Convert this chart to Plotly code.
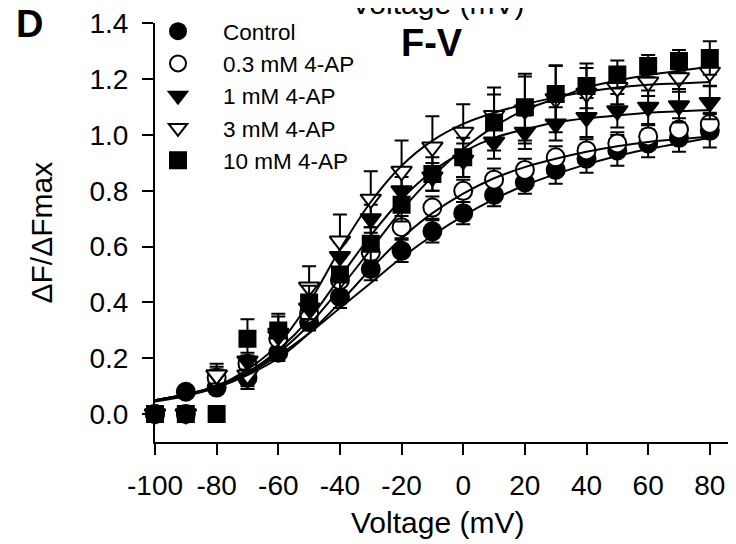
import plotly.graph_objects as go

voltage = [-100, -90, -80, -70, -60, -50, -40, -30, -20, -10, 0, 10, 20, 30, 40, 50, 60, 70, 80]

series_names = ["Control", "0.3 mM 4-AP", "1 mM 4-AP", "3 mM 4-AP", "10 mM 4-AP"]

control = [0.0, 0.08, 0.095, 0.13, 0.22, 0.33, 0.42, 0.52, 0.585, 0.655, 0.72, 0.785, 0.83, 0.875, 0.915, 0.945, 0.97, 0.99, 1.015]
ap03 = [0.0, 0.0, 0.13, 0.18, 0.27, 0.36, 0.48, 0.58, 0.67, 0.74, 0.80, 0.84, 0.875, 0.92, 0.945, 0.97, 0.995, 1.02, 1.04]
ap1 = [0.0, 0.0, 0.14, 0.19, 0.28, 0.38, 0.565, 0.70, 0.80, 0.85, 0.91, 0.975, 1.01, 1.04, 1.063, 1.087, 1.10, 1.105, 1.117]
ap3 = [0.0, 0.0, 0.14, 0.14, 0.29, 0.455, 0.62, 0.77, 0.87, 0.957, 1.01, 1.07, 1.09, 1.13, 1.15, 1.17, 1.19, 1.205, 1.225]
ap10 = [0.0, 0.0, 0.0, 0.27, 0.30, 0.40, 0.50, 0.61, 0.75, 0.86, 0.92, 1.045, 1.10, 1.147, 1.176, 1.217, 1.247, 1.265, 1.276]

err_control = [0, 0.02, 0.02, 0.03, 0.03, 0.03, 0.04, 0.04, 0.04, 0.04, 0.04, 0.04, 0.04, 0.05, 0.05, 0.055, 0.05, 0.05, 0.06]
err_ap03 = [0, 0, 0.03, 0.03, 0.03, 0.04, 0.04, 0.04, 0.04, 0.04, 0.04, 0.04, 0.04, 0.04, 0.04, 0.04, 0.04, 0.04, 0.04]
err_ap1 = [0, 0, 0.03, 0.03, 0.04, 0.04, 0.05, 0.05, 0.05, 0.05, 0.06, 0.06, 0.06, 0.06, 0.07, 0.06, 0.06, 0.06, 0.06]
err_ap3 = [0, 0, 0.04, 0.05, 0.06, 0.075, 0.095, 0.10, 0.11, 0.11, 0.10, 0.10, 0.12, 0.12, 0.09, 0.06, 0.05, 0.05, 0.05]
err_ap10 = [0, 0, 0, 0.07, 0.06, 0.06, 0.06, 0.06, 0.06, 0.06, 0.07, 0.10, 0.12, 0.10, 0.08, 0.05, 0.04, 0.04, 0.06]

fit_control = [0.05, 0.07, 0.10, 0.145, 0.21, 0.29, 0.38, 0.47, 0.56, 0.64, 0.71, 0.77, 0.82, 0.86, 0.895, 0.925, 0.95, 0.97, 0.99]
fit_ap03 = [0.045, 0.065, 0.095, 0.14, 0.20, 0.29, 0.40, 0.52, 0.63, 0.72, 0.79, 0.845, 0.885, 0.915, 0.94, 0.96, 0.975, 0.985, 0.995]
fit_ap1 = [0.05, 0.07, 0.10, 0.15, 0.23, 0.34, 0.49, 0.64, 0.77, 0.87, 0.94, 0.99, 1.02, 1.045, 1.06, 1.07, 1.08, 1.085, 1.09]
fit_ap3 = [0.05, 0.07, 0.10, 0.16, 0.25, 0.40, 0.59, 0.76, 0.89, 0.98, 1.04, 1.08, 1.11, 1.135, 1.155, 1.17, 1.18, 1.185, 1.19]
fit_ap10 = [0.05, 0.07, 0.10, 0.15, 0.22, 0.32, 0.45, 0.59, 0.73, 0.85, 0.95, 1.03, 1.09, 1.13, 1.17, 1.195, 1.215, 1.23, 1.245]

x_ticks = [-100, -80, -60, -40, -20, 0, 20, 40, 60, 80]
y_ticks = [0.0, 0.2, 0.4, 0.6, 0.8, 1.0, 1.2, 1.4]

data = [control, ap03, ap1, ap3, ap10]
errs = [err_control, err_ap03, err_ap1, err_ap3, err_ap10]
fits = [fit_control, fit_ap03, fit_ap1, fit_ap3, fit_ap10]
symbols = ["circle", "circle", "triangle-down", "triangle-down", "square"]
fills = ["black", "white", "black", "white", "black"]
sizes = [18, 18, 18, 18, 16]

FONT = "Liberation Sans, Arial, sans-serif"

# The page body has an 8px margin, so the figure is drawn 8px right/down.
OFF = 8
FIG_W, FIG_H = 736 - OFF, 544 - OFF
# plot-area geometry in screen pixels
L, R, T, B = 155, 736, 23, 442
W, H = R - L, B - T


def px(xs):
    return (xs - L) / W


def py(ys):
    return (B - ys) / H


fig = go.Figure()
for name, y, e, sym, fc, sz in zip(series_names, data, errs, symbols, fills, sizes):
    fig.add_trace(go.Scatter(
        x=voltage, y=y, mode="markers", name=name,
        marker=dict(symbol=sym, size=sz, color=fc, line=dict(color="black", width=2)),
        error_y=dict(type="data", array=e, visible=True, color="black", thickness=2, width=7),
        cliponaxis=False,
    ))
for name, f in zip(series_names, fits):
    fig.add_trace(go.Scatter(
        x=voltage, y=f, mode="lines", showlegend=False,
        line=dict(color="black", width=2, shape="spline", smoothing=1.0),
        hoverinfo="skip",
    ))

fig.update_layout(
    width=FIG_W, height=FIG_H,
    margin=dict(l=L - OFF, r=736 - R, t=T - OFF, b=544 - B, autoexpand=False),
    paper_bgcolor="white", plot_bgcolor="white",
    font=dict(family=FONT, color="black"),
    showlegend=True,
    legend=dict(
        xref="container", yref="container",
        x=(133 - OFF) / FIG_W, y=1 - (10 - OFF) / FIG_H, xanchor="left", yanchor="top",
        font=dict(size=22.5, family=FONT, color="black"),
        bgcolor="rgba(0,0,0,0)", itemwidth=80,
        tracegroupgap=0,
    ),
    xaxis=dict(
        range=[-100, 88.5], tickvals=x_ticks, ticktext=[str(v) for v in x_ticks],
        showgrid=False, zeroline=False, showline=True, linecolor="black", linewidth=2,
        ticks="outside", ticklen=11, tickwidth=2, tickcolor="black", automargin=False,
        tickfont=dict(size=28, family=FONT, color="black"), ticklabelstandoff=6,
    ),
    yaxis=dict(
        range=[-0.1, 1.4015], tickvals=y_ticks, ticktext=[f"{v:.1f}" for v in y_ticks],
        showgrid=False, zeroline=False, showline=True, linecolor="black", linewidth=2,
        ticks="outside", ticklen=11, tickwidth=2, tickcolor="black", automargin=False,
        tickfont=dict(size=28, family=FONT, color="black"), ticklabelstandoff=8,
    ),
    annotations=[
        dict(text="Voltage (mV)", xref="paper", yref="paper", x=px(437.5), y=py(522),
             xanchor="center", yanchor="middle", showarrow=False, font=dict(size=30, family=FONT)),
        dict(text="ΔF/ΔFmax", xref="paper", yref="paper", x=px(41), y=0.5,
             xanchor="center", yanchor="middle", textangle=-90, showarrow=False, font=dict(size=30, family=FONT)),
        dict(text="Voltage (mV)", xref="paper", yref="paper", x=px(437.5), y=py(12),
             xanchor="center", yanchor="bottom", yshift=-10, showarrow=False, font=dict(size=30, family=FONT)),
        dict(text="<b>D</b>", xref="paper", yref="paper", x=px(29), y=py(24),
             xanchor="center", yanchor="middle", showarrow=False, font=dict(size=38, family=FONT)),
        dict(text="<b>F-V</b>", xref="paper", yref="paper", x=px(432), y=py(43),
             xanchor="center", yanchor="middle", showarrow=False, font=dict(size=38, family=FONT)),
    ],
)

fig.write_html("out.html")
